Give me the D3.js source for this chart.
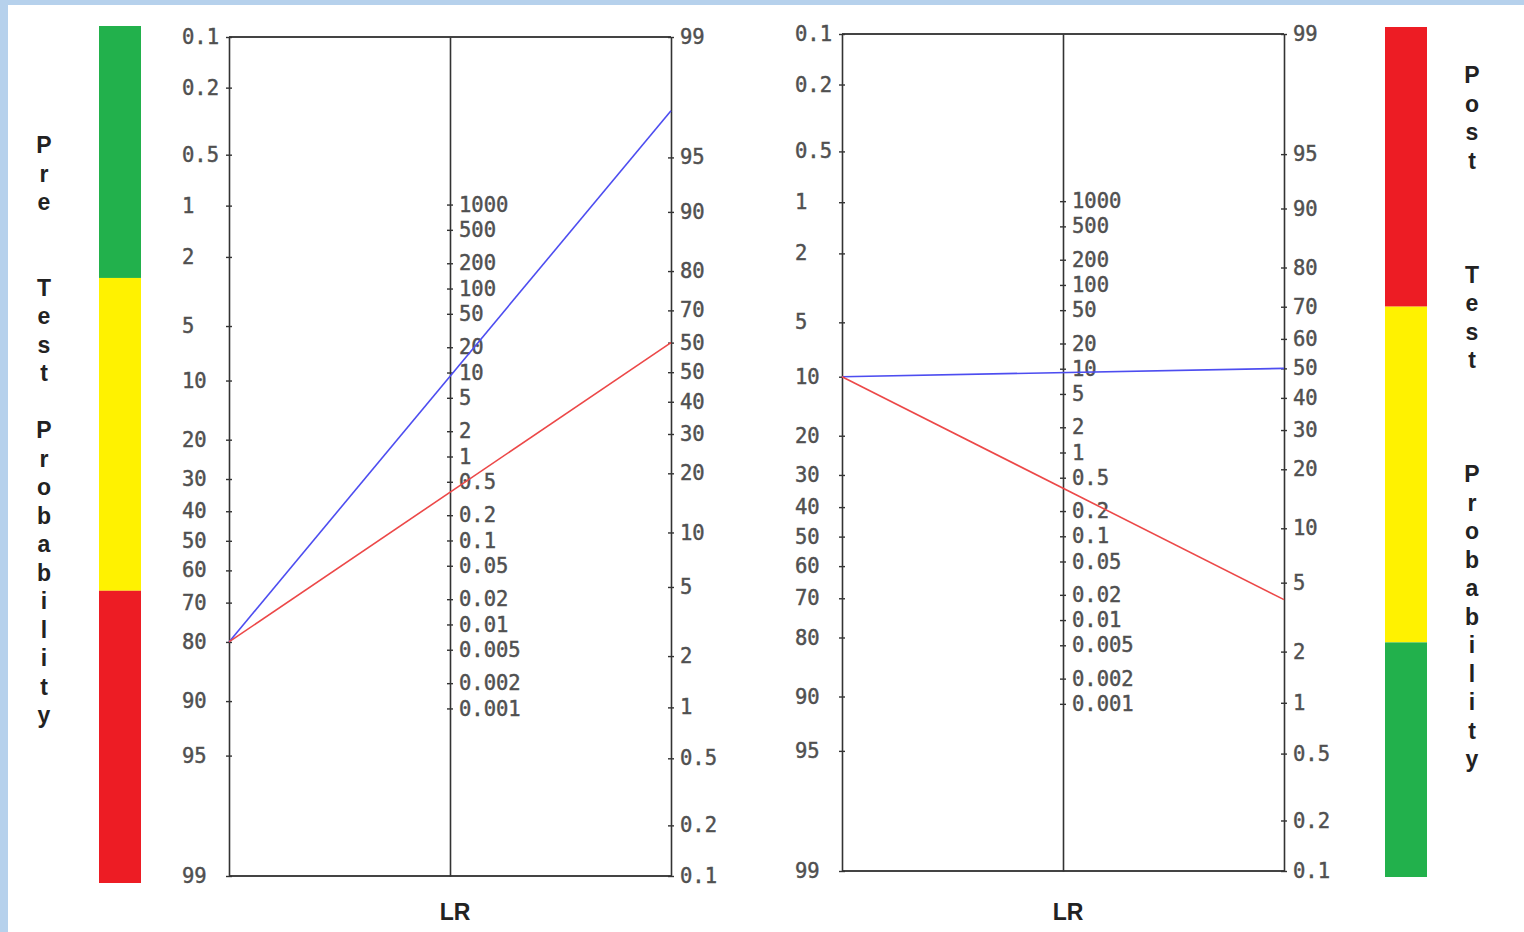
<!DOCTYPE html>
<html>
<head>
<meta charset="utf-8">
<script src="https://cdn.jsdelivr.net/npm/d3@7"></script>
<style>
  html, body { margin: 0; padding: 0; background: #fff; }
  svg { display: block; }
</style>
</head>
<body>
<div id="chart"></div>
<script>
// tick values and labels
const preTicks = [0.1, 0.2, 0.5, 1, 2, 5, 10, 20, 30, 40, 50, 60, 70, 80, 90, 95, 99];
const preLabels = ["0.1", "0.2", "0.5", "1", "2", "5", "10", "20", "30", "40", "50", "60", "70", "80", "90", "95", "99"];
const postTicks = [99, 95, 90, 80, 70, 60, 50, 40, 30, 20, 10, 5, 2, 1, 0.5, 0.2, 0.1];
const postLabelsA = ["99", "95", "90", "80", "70", "50", "50", "40", "30", "20", "10", "5", "2", "1", "0.5", "0.2", "0.1"];
const postLabelsB = ["99", "95", "90", "80", "70", "60", "50", "40", "30", "20", "10", "5", "2", "1", "0.5", "0.2", "0.1"];
const lrTicks = [1000, 500, 200, 100, 50, 20, 10, 5, 2, 1, 0.5, 0.2, 0.1, 0.05, 0.02, 0.01, 0.005, 0.002, 0.001];
const lrLabels = ["1000", "500", "200", "100", "50", "20", "10", "5", "2", "1", "0.5", "0.2", "0.1", "0.05", "0.02", "0.01", "0.005", "0.002", "0.001"];

// one entry per panel (%)
const preTest = [80, 10];
const postPositive = [97.3, 50];
const postNegative = [60, 4];

// colour bars: fractions of bar height
const barLeft = [
  {from: 0, to: 0.294, color: "#22b14c"},
  {from: 0.294, to: 0.659, color: "#fff200"},
  {from: 0.659, to: 1, color: "#ed1c24"}
];
const barRight = [
  {from: 0, to: 0.329, color: "#ed1c24"},
  {from: 0.329, to: 0.724, color: "#fff200"},
  {from: 0.724, to: 1, color: "#22b14c"}
];

const width = 1524, height = 932;
const logit = p => Math.log(p / (100 - p));
const span = logit(99) - logit(0.1);

const svg = d3.select("#chart").append("svg")
    .attr("width", width)
    .attr("height", height)
    .attr("viewBox", [0, 0, width, height]);

svg.append("rect").attr("width", width).attr("height", height).attr("fill", "#fff");
svg.append("rect").attr("width", width).attr("height", 5).attr("fill", "#b6d1ec");
svg.append("rect").attr("width", 8).attr("height", height).attr("fill", "#b6d1ec");

const panels = [
  {x0: 229, x1: 450, x2: 671, top: 37, bottom: 876, postLabels: postLabelsA},
  {x0: 842, x1: 1063, x2: 1284, top: 34, bottom: 871, postLabels: postLabelsB}
];

const monoFont = "'DejaVu Sans Mono', monospace";

function styleAxis(g, textX, anchor) {
  g.select(".domain").attr("stroke", "#333").attr("stroke-width", 1.6);
  g.selectAll(".tick line").attr("x1", -3).attr("x2", 3)
      .attr("stroke", "#333").attr("stroke-width", 1.4);
  g.selectAll(".tick text")
      .attr("x", textX)
      .attr("text-anchor", anchor)
      .attr("fill", "#505050")
      .attr("stroke", "#505050")
      .attr("stroke-width", 0.45)
      .attr("font-family", monoFont)
      .attr("font-size", 20.5);
}

panels.forEach((p, i) => {
  const yPre = d3.scaleLinear().domain([logit(0.1), logit(99)]).range([p.top, p.bottom]);
  const yPost = d3.scaleLinear().domain([logit(99), logit(0.1)]).range([p.top, p.bottom]);
  const yLR = d3.scaleLog().domain([Math.exp(span), Math.exp(-span)]).range([p.top, p.bottom]);

  const g = svg.append("g");

  // frame top and bottom
  g.append("line").attr("x1", p.x0).attr("x2", p.x2).attr("y1", p.top).attr("y2", p.top)
      .attr("stroke", "#444").attr("stroke-width", 2);
  g.append("line").attr("x1", p.x0).attr("x2", p.x2).attr("y1", p.bottom).attr("y2", p.bottom)
      .attr("stroke", "#444").attr("stroke-width", 2);

  g.append("g")
      .attr("transform", `translate(${p.x0},0)`)
      .call(d3.axisLeft(yPre).tickValues(preTicks.map(logit))
          .tickFormat((d, k) => preLabels[k]).tickSizeOuter(0))
      .call(a => styleAxis(a, -47, "start"));

  g.append("g")
      .attr("transform", `translate(${p.x1},0)`)
      .call(d3.axisRight(yLR).tickValues(lrTicks)
          .tickFormat((d, k) => lrLabels[k]).tickSizeOuter(0))
      .call(a => styleAxis(a, 9, "start"));

  g.append("g")
      .attr("transform", `translate(${p.x2},0)`)
      .call(d3.axisRight(yPost).tickValues(postTicks.map(logit))
          .tickFormat((d, k) => p.postLabels[k]).tickSizeOuter(0))
      .call(a => styleAxis(a, 9, "start"));

  // nomogram lines
  const lines = [
    {post: postPositive[i], color: "#4d4df0"},
    {post: postNegative[i], color: "#ec4848"}
  ];
  g.selectAll(".nl").data(lines).join("line")
      .attr("x1", p.x0).attr("y1", yPre(logit(preTest[i])))
      .attr("x2", p.x2).attr("y2", d => yPost(logit(d.post)))
      .attr("stroke", d => d.color)
      .attr("stroke-width", 1.6);

  g.append("text")
      .attr("x", p.x1 + 5).attr("y", 912)
      .attr("dy", "0.35em")
      .attr("text-anchor", "middle")
      .attr("font-family", "'Liberation Sans', Arial, sans-serif")
      .attr("font-weight", "bold")
      .attr("font-size", 23)
      .attr("fill", "#222")
      .text("LR");
});

// colour bars
function drawBar(data, x, top, bottom) {
  const y = d3.scaleLinear().domain([0, 1]).range([top, bottom]);
  svg.append("g").selectAll("rect").data(data).join("rect")
      .attr("x", x).attr("width", 42)
      .attr("y", d => y(d.from))
      .attr("height", d => y(d.to) - y(d.from))
      .attr("fill", d => d.color);
}
drawBar(barLeft, 99, 26, 883);
drawBar(barRight, 1385, 27, 877);

// vertical titles, one letter per line
function drawVertical(str, x, y0, step) {
  svg.append("g").selectAll("text")
      .data(str.split("").map((c, k) => ({c, k})).filter(d => d.c !== " "))
      .join("text")
      .attr("x", x)
      .attr("y", d => y0 + d.k * step)
      .attr("dy", "0.35em")
      .attr("text-anchor", "middle")
      .attr("font-family", "'Liberation Sans', Arial, sans-serif")
      .attr("font-weight", "bold")
      .attr("font-size", 23)
      .attr("fill", "#222")
      .text(d => d.c);
}
drawVertical("Pre  Test Probability", 44, 145, 28.5);
drawVertical("Post   Test   Probability", 1472, 75, 28.5);
</script>
</body>
</html>
